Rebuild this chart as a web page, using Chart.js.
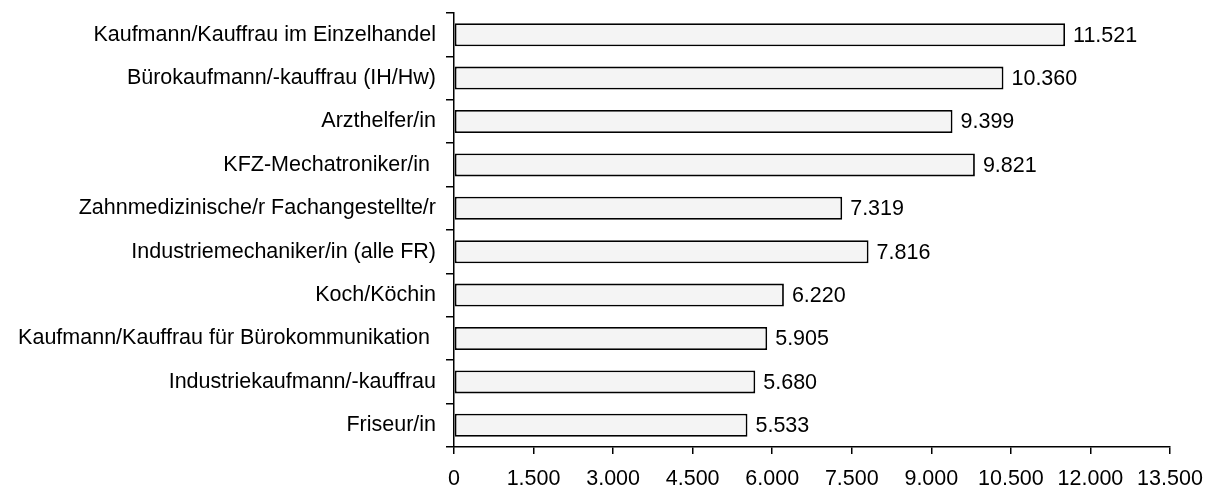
<!DOCTYPE html>
<html lang="de">
<head>
  <meta charset="UTF-8" />
  <title>Ausbildungsberufe</title>
  <script src="https://cdn.jsdelivr.net/npm/chart.js"></script>
  <style>
    html, body { margin: 0; padding: 0; background: #fff; }
    #wrap { width: 1215px; height: 490px; }
  </style>
</head>
<body>
  <div id="wrap"><canvas id="chart"></canvas></div>
  <script>
    const categories = [
      "Kaufmann/Kauffrau im Einzelhandel",
      "Bürokaufmann/-kauffrau (IH/Hw)",
      "Arzthelfer/in",
      "KFZ-Mechatroniker/in ",
      "Zahnmedizinische/r Fachangestellte/r",
      "Industriemechaniker/in (alle FR)",
      "Koch/Köchin",
      "Kaufmann/Kauffrau für Bürokommunikation ",
      "Industriekaufmann/-kauffrau",
      "Friseur/in"
    ];
    const values = [11521, 10360, 9399, 9821, 7319, 7816, 6220, 5905, 5680, 5533];
    const xTicks = [0, 1500, 3000, 4500, 6000, 7500, 9000, 10500, 12000, 13500];

    const fmt = v => v.toLocaleString("de-DE");
    const font = { family: "'Liberation Sans', Arial, sans-serif", size: 21.5 };

    // value labels next to bar ends
    const valueLabels = {
      id: "valueLabels",
      afterDatasetsDraw(chart) {
        const ctx = chart.ctx;
        ctx.save();
        ctx.font = font.size + "px " + font.family;
        ctx.fillStyle = "#000";
        ctx.textBaseline = "middle";
        chart.getDatasetMeta(0).data.forEach((bar, i) => {
          ctx.fillText(fmt(values[i]), bar.x + 8, bar.y + 1);
        });
        ctx.restore();
      }
    };

    new Chart(document.getElementById("chart"), {
      type: "bar",
      data: {
        labels: categories,
        datasets: [{
          data: values,
          backgroundColor: "#f4f4f4",
          borderColor: "#000",
          borderWidth: 1.8,
          borderSkipped: false,
          barPercentage: 0.53,
          categoryPercentage: 1
        }]
      },
      options: {
        indexAxis: "y",
        responsive: true,
        maintainAspectRatio: false,
        animation: false,
        layout: { padding: { top: 13, right: 45, left: 0, bottom: 0 } },
        plugins: { legend: { display: false }, tooltip: { enabled: false } },
        scales: {
          x: {
            min: 0,
            max: 13500,
            afterBuildTicks: scale => { scale.ticks = xTicks.map(v => ({ value: v })); },
            afterFit: scale => { scale.height = 43; },
            grid: { drawOnChartArea: false, tickLength: 7, color: "#000", lineWidth: 1.5 },
            border: { color: "#000", width: 1.5 },
            ticks: { color: "#000", font: font, padding: 12, maxRotation: 0, callback: v => fmt(v) }
          },
          y: {
            afterFit: scale => {
              scale.width = 454;
              scale.paddingTop = 0;
              scale.paddingBottom = 0;
            },
            grid: { drawOnChartArea: false, offset: true, tickLength: 8, color: "#000", lineWidth: 1.5 },
            border: { color: "#000", width: 1.5 },
            ticks: { color: "#000", font: font, padding: 10, autoSkip: false }
          }
        }
      },
      plugins: [valueLabels]
    });
  </script>
</body>
</html>
